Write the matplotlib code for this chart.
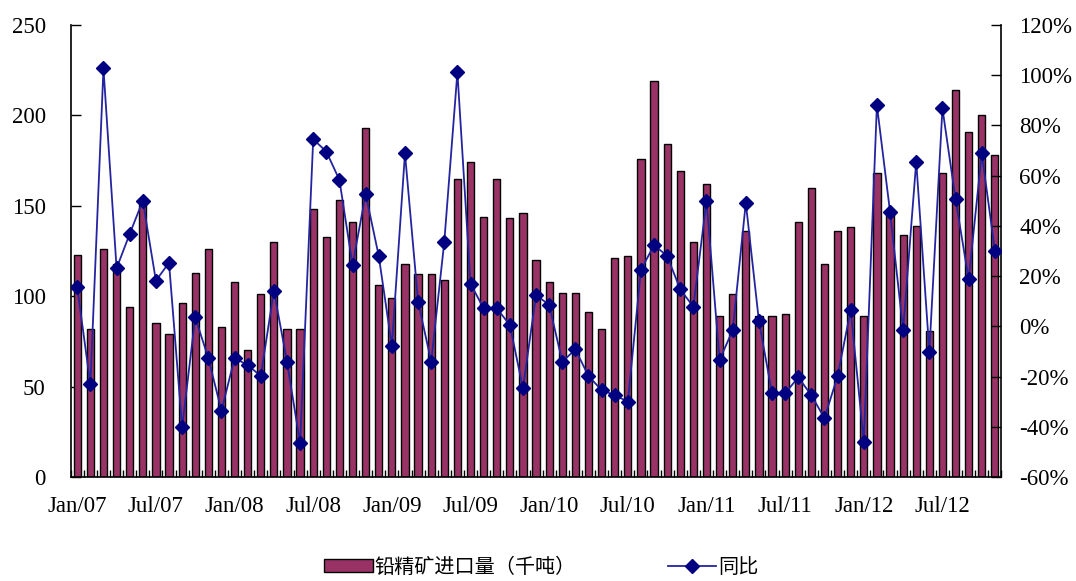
import matplotlib
matplotlib.use("Agg")
import matplotlib.pyplot as plt
from matplotlib.ticker import FixedLocator, FuncFormatter
from matplotlib.lines import Line2D
from matplotlib.patches import Patch

months = [f"{m}/{y:02d}" for y in range(7, 13) for m in
          ["Jan", "Feb", "Mar", "Apr", "May", "Jun", "Jul", "Aug", "Sep", "Oct", "Nov", "Dec"]][:71]

imports = [123, 82, 126, 118, 94, 153, 85, 79, 96, 113,
           126, 83, 108, 70, 101, 130, 82, 82, 148, 133,
           153, 141, 193, 106, 99, 118, 112, 112, 109, 165,
           174, 144, 165, 143, 146, 120, 108, 102, 102, 91,
           82, 121, 122, 176, 219, 184, 169, 130, 162, 89,
           101, 136, 89, 89, 90, 141, 160, 118, 136, 138,
           89, 168, 146, 134, 139, 81, 168, 214, 191, 200, 178]

yoy = [15.5, -23.1, 102.7, 23.1, 36.8, 50, 18.2, 25.3, -40.2, 3.6,
       -12.7, -33.6, -12.7, -15.4, -19.8, 14.2, -14.1, -46.6, 74.5, 69.6,
       58.3, 24.4, 52.7, 28, -7.8, 68.9, 9.8, -14.1, 33.7, 101.2,
       16.9, 7.2, 7.2, 0.5, -24.7, 12.5, 8.5, -14.1, -9.2, -19.8,
       -25.4, -27.4, -30, 22.4, 32.4, 28, 14.7, 7.8, 50, -13.4,
       -1.5, 49.2, 2.1, -26.7, -26.7, -20.3, -27.4, -36.6, -19.8, 6.5,
       -45.9, 88.1, 45.7, -1.5, 65.6, -10.1, 86.8, 50.6, 18.7, 68.9, 30.1]

left_ticks = [0, 50, 100, 150, 200, 250]
right_ticks = [-60, -40, -20, 0, 20, 40, 60, 80, 100, 120]
label_names = ["铅精矿进口量（千吨）", "同比"]

serif = ["Liberation Serif", "DejaVu Serif"]
cjk = ["Noto Sans CJK SC", "DejaVu Sans"]

bar_color = "#993366"
line_color = "#2424A0"
marker_color = "#000080"

fig = plt.figure(figsize=(10.76, 5.81), dpi=100)
ax = fig.add_axes([0.0657, 0.179, 0.865, 0.778])
ax2 = ax.twinx()

x = list(range(len(months)))
ax.bar(x, imports, width=0.55, color=bar_color, edgecolor="black", linewidth=1.0, zorder=2)
ax2.plot(x, yoy, color=line_color, linewidth=1.3, marker="D", markersize=7,
         markerfacecolor=marker_color, markeredgecolor=marker_color, zorder=3)

ax.set_xlim(-0.5, len(months) - 0.5)
ax.set_ylim(0, 250)
ax2.set_ylim(-60, 120)

ax.set_yticks(left_ticks)
ax2.set_yticks(right_ticks)
ax2.yaxis.set_major_formatter(FuncFormatter(lambda v, p: f"{int(v)}%"))

major_pos = list(range(0, len(months), 6))
ax.set_xticks(major_pos)
ax.set_xticklabels([months[i] for i in major_pos])
ax.xaxis.set_minor_locator(FixedLocator([i + 0.5 for i in range(-1, len(months))]))

ax.tick_params(axis="x", which="major", length=0, pad=14, labelsize=16.5)
ax.tick_params(axis="x", which="minor", direction="in", length=5, width=1)
ax.tick_params(axis="y", direction="in", length=7, width=1, pad=18, labelsize=16.5)
ax2.tick_params(axis="y", direction="in", length=7, width=1, pad=13, labelsize=16.5)

for lab in ax.get_xticklabels() + ax.get_yticklabels() + ax2.get_yticklabels():
    lab.set_fontfamily(serif)

for a in (ax, ax2):
    a.spines["top"].set_visible(False)
    for s in ("left", "right", "bottom"):
        a.spines[s].set_linewidth(1.2)
ax.spines["right"].set_visible(False)
ax2.spines["left"].set_visible(False)
ax2.spines["bottom"].set_visible(False)

handles = [Patch(facecolor=bar_color, edgecolor="black", linewidth=1.0),
           Line2D([0], [0], color=line_color, linewidth=1.3, marker="D", markersize=7,
                  markerfacecolor=marker_color, markeredgecolor=marker_color)]
fig.legend(handles, label_names, loc="center", bbox_to_anchor=(0.503, 0.024), ncol=2,
           frameon=False, prop={"family": cjk, "size": 14.5}, handlelength=2.4,
           handletextpad=0.08, columnspacing=4.6, handleheight=0.6)

fig.savefig("out.png", dpi=100)
